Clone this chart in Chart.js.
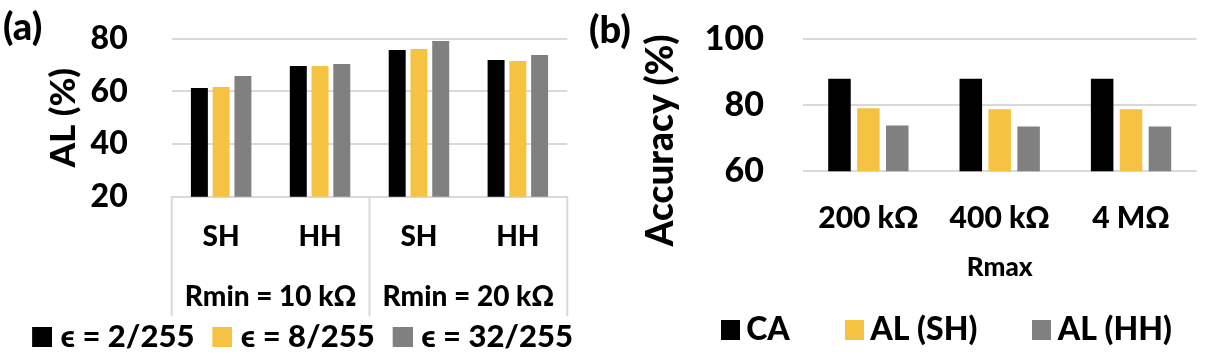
<!DOCTYPE html>
<html>
<head>
<meta charset="utf-8">
<script src="https://cdn.jsdelivr.net/npm/chart.js@4/dist/chart.umd.min.js"></script>
<style>
  html, body { margin: 0; padding: 0; background: #fff; }
  body { width: 1212px; height: 356px; position: relative; overflow: hidden; }
  .panel { position: absolute; top: 0; height: 356px; }
  .tag { position: absolute; font-family: Lato, "Open Sans", sans-serif; font-weight: 900; font-size: 38px; line-height: 38px; color: #000; }
</style>
</head>
<body>
<div class="panel" style="left:0;width:600px;"><canvas id="left" width="600" height="356"></canvas></div>
<div class="panel" style="left:600px;width:702px;"><canvas id="right" width="702" height="356"></canvas></div>
<div class="tag" style="left:3px;top:6px;">(a)</div>
<div class="tag" style="left:589px;top:9px;">(b)</div>
<script>
// ---------- data: panel (a) ----------
const leftCategories = ['SH', 'HH', 'SH', 'HH'];
const leftGroups = ['Rmin = 10 kΩ', 'Rmin = 20 kΩ'];
const leftSeriesNames = ['ϵ = 2/255', 'ϵ = 8/255', 'ϵ = 32/255'];
const eps2 = [61.3, 69.6, 75.7, 71.9];
const eps8 = [61.7, 69.6, 76.1, 71.5];
const eps32 = [65.8, 70.4, 79.1, 73.8];
const leftYMin = 20, leftYMax = 80, leftYStep = 20;
const leftYTitle = 'AL (%)';

// ---------- data: panel (b) ----------
const rightCategories = ['200 kΩ', '400 kΩ', '4 MΩ'];
const rightSeriesNames = ['CA', 'AL (SH)', 'AL (HH)'];
const caAcc = [87.9, 87.9, 87.9];
const alSH = [79.0, 78.7, 78.7];
const alHH = [73.8, 73.5, 73.5];
const rightYMin = 60, rightYMax = 100, rightYStep = 20;
const rightYTitle = 'Accuracy (%)';
const rightXTitle = 'Rmax';

const COLORS = ['#000000', '#F5C242', '#808080'];
const FONT = 'Lato, "Open Sans", sans-serif';
const W = 900;
const GRID = '#d9d9d9';
const CLEAR = 'rgba(0,0,0,0)';

Chart.defaults.color = '#000';
Chart.defaults.font.family = FONT;
Chart.defaults.font.weight = W;

function bars(names, values) {
  return names.map((n, i) => ({
    label: n, data: values[i], backgroundColor: COLORS[i], borderWidth: 0,
    barPercentage: 0.78, categoryPercentage: 0.66, xAxisID: 'x', yAxisID: 'y'
  }));
}

// square legend swatch, placed at the right end of a wider transparent image
function swatch(color, imgW, sq, h) {
  const c = document.createElement('canvas');
  c.width = imgW; c.height = h;
  const g = c.getContext('2d');
  g.fillStyle = color; g.fillRect(imgW - sq, 0, sq, h);
  return c;
}
function legendLabels(imgW, sq, h) {
  return function (chart) {
    const items = Chart.defaults.plugins.legend.labels.generateLabels(chart);
    items.forEach((it, i) => { it.pointStyle = swatch(COLORS[i], imgW, sq, h); });
    return items;
  };
}

// dummy axis that only reserves space
function spacer(width) {
  return {
    position: 'right', display: true,
    grid: { display: false, drawTicks: false }, border: { display: false },
    ticks: { display: false },
    afterFit(s) { s.width = width; }
  };
}

// group separators under the multi-level category axis
const separatorPlugin = {
  id: 'separators',
  afterDraw(chart) {
    const g = chart.scales.x2; if (!g) return;
    const ctx = chart.ctx, top = chart.chartArea.bottom, bottom = g.bottom;
    ctx.save();
    ctx.strokeStyle = GRID; ctx.lineWidth = 2;
    for (let i = 0; i <= leftGroups.length; i++) {
      const x = g.getPixelForValue(i - 0.5);
      ctx.beginPath(); ctx.moveTo(x, top); ctx.lineTo(x, bottom); ctx.stroke();
    }
    ctx.restore();
  }
};

new Chart(document.getElementById('left'), {
  type: 'bar',
  data: { labels: leftCategories, datasets: bars(leftSeriesNames, [eps2, eps8, eps32]) },
  options: {
    responsive: false, animation: false,
    layout: { padding: { top: 38.7, left: 0, right: 8, bottom: -6.2 } },
    plugins: {
      tooltip: { enabled: false },
      legend: {
        position: 'bottom',
        labels: {
          usePointStyle: true, pointStyleWidth: 26, boxHeight: 20, padding: 5,
          color: '#000', font: { size: 31, weight: W }, generateLabels: legendLabels(40, 20, 20)
        }
      }
    },
    scales: {
      y: {
        min: leftYMin, max: leftYMax,
        ticks: { stepSize: leftYStep, padding: 0, autoSkip: false, font: { size: 32, weight: W }, color: '#000' },
        grid: { color: GRID, lineWidth: 2, drawTicks: true, tickLength: 44, tickColor: CLEAR },
        border: { display: false },
        title: { display: true, text: leftYTitle, font: { size: 35, weight: W }, padding: { top: 43.2, bottom: 0 }, color: '#000' },
        afterFit(s) { s.width = 171.7; }
      },
      y2: spacer(24.7),
      x: {
        weight: 0,
        grid: { display: false, drawTicks: false },
        border: { display: true, color: GRID, width: 2 },
        ticks: { padding: 23.5, font: { size: 28, weight: W }, color: '#000', maxRotation: 0 },
        afterFit(s) { s.height = 77; }
      },
      x2: {
        type: 'category', position: 'bottom', weight: 1, offset: true,
        labels: leftGroups,
        grid: { display: false, drawTicks: false },
        border: { display: false },
        ticks: { padding: 6.9, font: { size: 28, weight: W }, color: '#000', maxRotation: 0, autoSkip: false },
        afterFit(s) { s.height = 42.5; }
      }
    }
  },
  plugins: [separatorPlugin]
});

// rotated y title for panel (b), centred like the reference (below the plot centre)
const rightTitlePlugin = {
  id: 'rightYTitle',
  afterDraw(chart) {
    const ctx = chart.ctx;
    ctx.save();
    ctx.translate(61, 140.5);
    ctx.rotate(-Math.PI / 2);
    ctx.font = W + ' 37px ' + FONT;
    ctx.fillStyle = '#000';
    ctx.textAlign = 'center'; ctx.textBaseline = 'middle';
    ctx.fillText(rightYTitle, 0, 0);
    ctx.restore();
  }
};

new Chart(document.getElementById('right'), {
  type: 'bar',
  data: { labels: rightCategories, datasets: bars(rightSeriesNames, [caAcc, alSH, alHH]) },
  options: {
    responsive: false, animation: false,
    layout: { padding: { top: 38.7, left: 0, right: 0, bottom: 0 } },
    plugins: {
      tooltip: { enabled: false },
      legend: {
        position: 'bottom',
        labels: {
          usePointStyle: true, pointStyleWidth: 0.1, boxHeight: 20, padding: 64.45,
          color: '#000', font: { size: 32, weight: W }, generateLabels: legendLabels(19, 19, 20)
        }
      }
    },
    scales: {
      y: {
        min: rightYMin, max: rightYMax,
        ticks: { stepSize: rightYStep, padding: 0, autoSkip: false, font: { size: 34, weight: W }, color: '#000' },
        grid: { color: GRID, lineWidth: 2, drawTicks: true, tickLength: 38.7, tickColor: CLEAR },
        border: { display: false },
        afterFit(s) { s.width = 202.7; }
      },
      y2: spacer(105.3),
      x: {
        grid: { display: false, drawTicks: false },
        border: { display: false },
        ticks: { padding: 28.9, font: { size: 30, weight: W }, color: '#000', maxRotation: 0 },
        title: { display: true, text: rightXTitle, font: { size: 26, weight: W, lineHeight: 1 }, padding: { top: 0, bottom: -30.95 }, color: '#000' },
        afterFit(s) { s.height = 78.25; }
      }
    }
  },
  plugins: [rightTitlePlugin]
});
</script>
</body>
</html>
